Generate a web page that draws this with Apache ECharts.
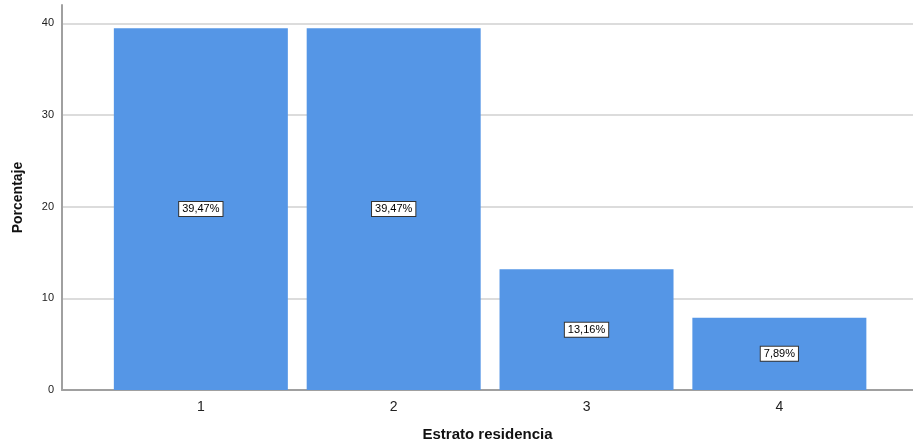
<!DOCTYPE html>
<html>
<head>
<meta charset="utf-8">
<script src="https://cdn.jsdelivr.net/npm/echarts@6/dist/echarts.min.js"></script>
<style>
  html, body { margin: 0; padding: 0; background: #fff; }
  #chart { width: 913px; height: 444px; }
</style>
</head>
<body>
<div id="chart"></div>
<script>
// Estrato de residencia (1-4) y porcentaje de casos
const categories = [1, 2, 3, 4];
const percentages = [39.47, 39.47, 13.16, 7.89];
const yTicks = [0, 10, 20, 30, 40];

const fmt = v => v.toFixed(2).replace('.', ',') + '%';

const chart = echarts.init(document.getElementById('chart'), null, { renderer: 'canvas' });

chart.setOption({
  animation: false,
  backgroundColor: '#ffffff',
  grid: { left: 62, right: 0, top: 5, bottom: 54, outerBoundsMode: 'none', containLabel: false },
  xAxis: {
    type: 'value',
    min: 0.28,
    max: 4.693,
    name: 'Estrato residencia',
    nameLocation: 'middle',
    nameGap: 37,
    nameTextStyle: { fontFamily: 'Liberation Sans, Arial, sans-serif', fontWeight: 'bold', fontSize: 15, color: '#111' },
    axisLine: { show: true, lineStyle: { color: '#a0a0a0', width: 2 } },
    axisTick: { show: false },
    splitLine: { show: false },
    axisLabel: {
      customValues: categories,
      formatter: v => String(v),
      fontFamily: 'Liberation Sans, Arial, sans-serif',
      fontSize: 14,
      color: '#222',
      margin: 10
    }
  },
  yAxis: {
    type: 'value',
    min: 0,
    max: 42,
    interval: 10,
    name: 'Porcentaje',
    nameLocation: 'middle',
    nameGap: 37,
    nameTextStyle: { fontFamily: 'Liberation Sans, Arial, sans-serif', fontWeight: 'bold', fontSize: 14, color: '#111' },
    axisLine: { show: true, lineStyle: { color: '#a0a0a0', width: 2 } },
    axisTick: { show: false },
    axisLabel: {
      customValues: yTicks,
      fontFamily: 'Liberation Sans, Arial, sans-serif',
      fontSize: 11,
      color: '#222',
      margin: 8
    },
    splitLine: {
      show: true,
      showMinLine: false,
      showMaxLine: false,
      lineStyle: { color: '#dcdcdc', width: 2 }
    }
  },
  series: [{
    type: 'bar',
    data: categories.map((c, i) => [c, percentages[i]]),
    barWidth: 174,
    itemStyle: { color: '#5596e6' },
    label: {
      show: true,
      position: 'inside',
      formatter: p => fmt(p.value[1]),
      fontFamily: 'Liberation Sans, Arial, sans-serif',
      fontSize: 11,
      color: '#000',
      backgroundColor: '#ffffff',
      borderColor: '#333333',
      borderWidth: 1,
      padding: [2, 3, 1, 3]
    }
  }]
});
</script>
</body>
</html>
